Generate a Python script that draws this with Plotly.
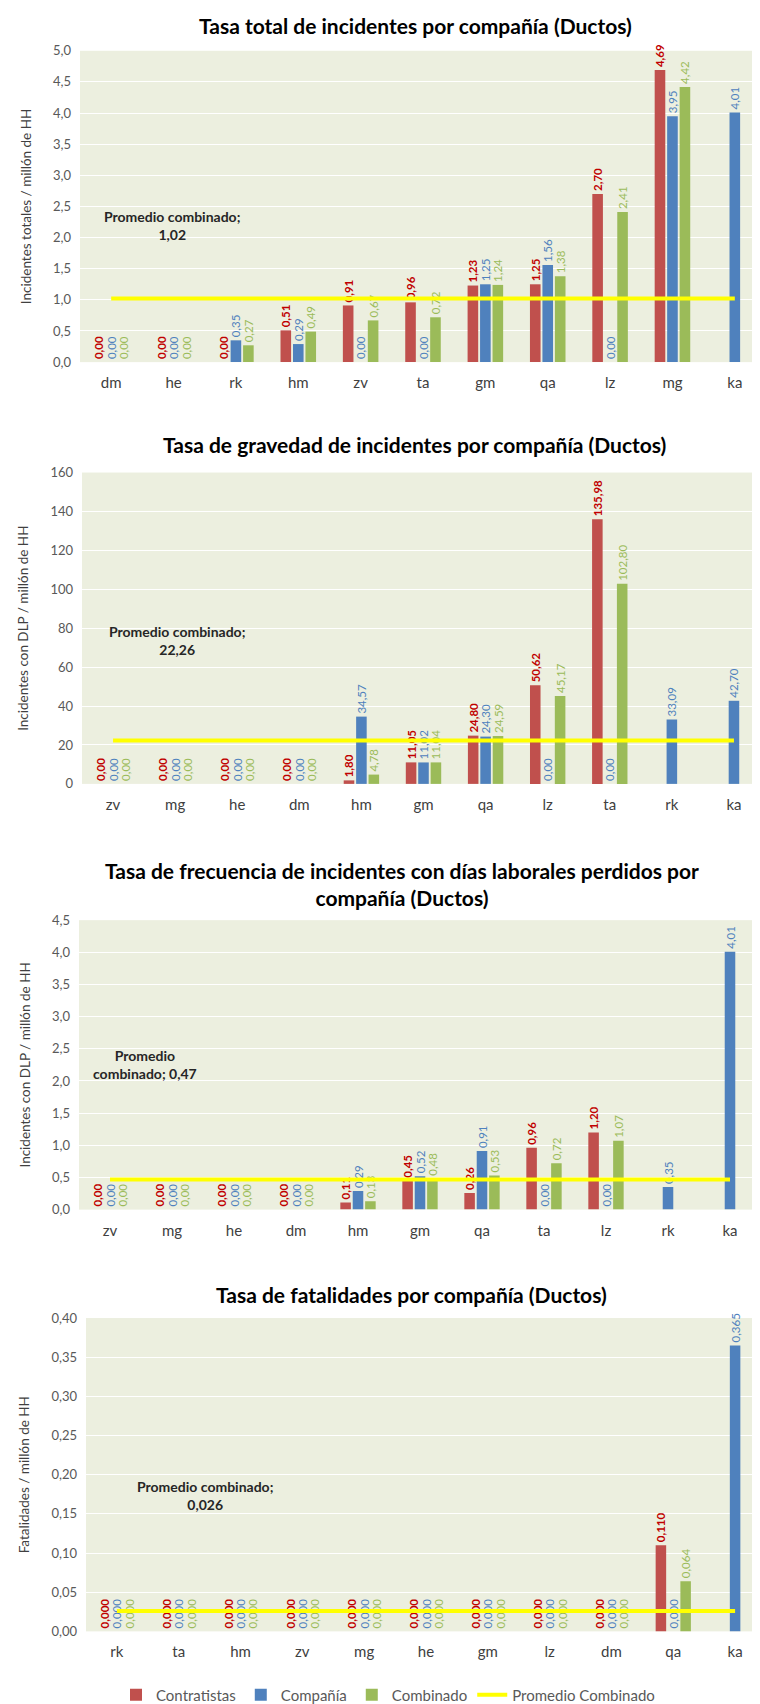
import plotly.graph_objects as go

# --- data -------------------------------------------------------------------
SERIES = ["Contratistas", "Compañía", "Combinado"]

cats_total = ["dm", "he", "rk", "hm", "zv", "ta", "gm", "qa", "lz", "mg", "ka"]
total_contr = [0.00, 0.00, 0.00, 0.51, 0.91, 0.96, 1.23, 1.25, 2.70, 4.69, None]
total_comp = [0.00, 0.00, 0.35, 0.29, 0.00, 0.00, 1.25, 1.56, 0.00, 3.95, 4.01]
total_comb = [0.00, 0.00, 0.27, 0.49, 0.67, 0.72, 1.24, 1.38, 2.41, 4.42, None]
total_avg = 1.02

cats_grav = ["zv", "mg", "he", "dm", "hm", "gm", "qa", "lz", "ta", "rk", "ka"]
grav_contr = [0.00, 0.00, 0.00, 0.00, 1.80, 11.05, 24.80, 50.62, 135.98, None, None]
grav_comp = [0.00, 0.00, 0.00, 0.00, 34.57, 11.02, 24.30, 0.00, 0.00, 33.09, 42.70]
grav_comb = [0.00, 0.00, 0.00, 0.00, 4.78, 11.04, 24.59, 45.17, 102.80, None, None]
grav_avg = 22.26

cats_frec = ["zv", "mg", "he", "dm", "hm", "gm", "qa", "ta", "lz", "rk", "ka"]
frec_contr = [0.00, 0.00, 0.00, 0.00, 0.11, 0.45, 0.26, 0.96, 1.20, None, None]
frec_comp = [0.00, 0.00, 0.00, 0.00, 0.29, 0.52, 0.91, 0.00, 0.00, 0.35, 4.01]
frec_comb = [0.00, 0.00, 0.00, 0.00, 0.13, 0.48, 0.53, 0.72, 1.07, None, None]
frec_avg = 0.47

cats_fat = ["rk", "ta", "hm", "zv", "mg", "he", "gm", "lz", "dm", "qa", "ka"]
fat_contr = [0.000] * 9 + [0.110, None]
fat_comp = [0.000] * 9 + [0.000, 0.365]
fat_comb = [0.000] * 9 + [0.064, None]
fat_avg = 0.026

# --- style ------------------------------------------------------------------
FONT = "Lato, 'Open Sans', sans-serif"
BAR_COLORS = ["#C0504D", "#4F81BD", "#9BBB59"]
LABEL_COLORS = ["#C00000", "#4F81BD", "#9BBB59"]
BG = "#ECEFDF"
W, H = 760, 1704


def _fmt(v, nd):
    if v is None:
        return ""
    return f"{v:.{nd}f}".replace(".", ",")


def px_y(top, bottom):
    return [1 - bottom / H, 1 - top / H]


def px_x(left, right):
    return [left / W, right / W]


charts = [
    dict(title="Tasa total de incidentes por compañía (Ductos)",
         cats=cats_total, vals=[total_contr, total_comp, total_comb], avg=total_avg,
         ytitle="Incidentes totales / millón de HH", yrange=[0, 5], dtick=0.5, tickfmt=".1f",
         nd=2, avg_txt="Promedio combinado;<br>1,02", ann=(0.134, 0.44),
         xdom=px_x(72, 758), ydom=px_y(43, 356), title_xy=(407, 18)),
    dict(title="Tasa de gravedad de incidentes por compañía (Ductos)",
         cats=cats_grav, vals=[grav_contr, grav_comp, grav_comb], avg=grav_avg,
         ytitle="Incidentes con DLP / millón de HH", yrange=[0, 160], dtick=20, tickfmt="d",
         nd=2, avg_txt="Promedio combinado;<br>22,26", ann=(0.139, 0.46),
         xdom=px_x(74, 757), ydom=px_y(467, 780), title_xy=(406, 439)),
    dict(title="Tasa de frecuencia de incidentes con días laborales perdidos por<br>compañía (Ductos)",
         cats=cats_frec, vals=[frec_contr, frec_comp, frec_comb], avg=frec_avg,
         ytitle="Incidentes con DLP / millón de HH", yrange=[0, 4.5], dtick=0.5, tickfmt=".1f",
         nd=2, avg_txt="Promedio<br>combinado; 0,47", ann=(0.097, 0.50),
         xdom=px_x(71, 753), ydom=px_y(917, 1208), title_xy=(394, 881)),
    dict(title="Tasa de fatalidades por compañía (Ductos)",
         cats=cats_fat, vals=[fat_contr, fat_comp, fat_comb], avg=fat_avg,
         ytitle="Fatalidades / millón de HH", yrange=[0, 0.4], dtick=0.05, tickfmt=".2f",
         nd=3, avg_txt="Promedio combinado;<br>0,026", ann=(0.175, 0.435),
         xdom=px_x(78, 758), ydom=px_y(1317, 1632), title_xy=(403, 1293)),
]

fig = go.Figure()
annotations = []
layout = {}

for i, ch in enumerate(charts):
    n = "" if i == 0 else str(i + 1)
    xa, ya = "x" + n, "y" + n
    first = i == 0
    for j, name in enumerate(SERIES):
        vals = ch["vals"][j]
        fig.add_trace(go.Bar(
            x=ch["cats"], y=vals, name=name, xaxis=xa, yaxis=ya,
            marker_color=BAR_COLORS[j], marker_line_width=0,
            text=[_fmt(v, ch["nd"]) for v in vals],
            textposition="outside", textangle=-90, cliponaxis=False,
            constraintext="none",
            textfont=dict(family=FONT, size=11.5, color=LABEL_COLORS[j],
                          weight="bold" if j == 0 else "normal"),
            legendgroup=name, showlegend=first,
        ))
    fig.add_trace(go.Scatter(
        x=ch["cats"], y=[ch["avg"]] * len(ch["cats"]), mode="lines",
        name="Promedio Combinado", xaxis=xa, yaxis=ya,
        line=dict(color="#FFFF00", width=4), hoverinfo="skip",
        legendgroup="avg", showlegend=first, cliponaxis=False,
    ))

    layout["xaxis" + n] = dict(
        domain=ch["xdom"], anchor=ya, automargin=False, showgrid=False,
        ticks="", ticklabelstandoff=10, showline=False,
        tickfont=dict(family=FONT, size=15, color="#404040"),
    )
    layout["yaxis" + n] = dict(
        domain=ch["ydom"], anchor=xa, automargin=False, range=ch["yrange"],
        dtick=ch["dtick"], tickformat=ch["tickfmt"], showgrid=True,
        gridcolor="#FFFFFF", gridwidth=1, zeroline=False, showline=False,
        ticks="", ticklabelstandoff=8,
        tickfont=dict(family=FONT, size=13, color="#595959"),
        title=dict(text=ch["ytitle"], standoff=18,
                   font=dict(family=FONT, size=13.5, color="#404040")),
    )
    tx, ty = ch["title_xy"]
    annotations.append(dict(
        text="<b>" + ch["title"] + "</b>", xref="paper", yref="paper",
        x=tx / W, y=1 - ty / H, xanchor="center", yanchor="middle",
        showarrow=False, font=dict(family=FONT, size=21, color="#000000"),
    ))
    ax, ay = ch["ann"]
    annotations.append(dict(
        text="<b>" + ch["avg_txt"] + "</b>", xref=xa + " domain", yref=ya + " domain",
        x=ax, y=ay, xanchor="center", yanchor="middle", showarrow=False,
        font=dict(family=FONT, size=14, color="#262626"),
    ))

fig.update_layout(
    width=W, height=H, margin=dict(l=0, r=0, t=0, b=0),
    paper_bgcolor="#FFFFFF", plot_bgcolor=BG,
    separators=",.", barmode="group", bargap=0.4, bargroupgap=0.15,
    font=dict(family=FONT, color="#404040"),
    annotations=annotations,
    legend=dict(orientation="h", x=0.5, y=1 - 1696 / H, xanchor="center",
                yanchor="middle", font=dict(family=FONT, size=15, color="#595959"),
                itemwidth=30, traceorder="normal"),
    **layout,
)

fig.write_html("out.html")
